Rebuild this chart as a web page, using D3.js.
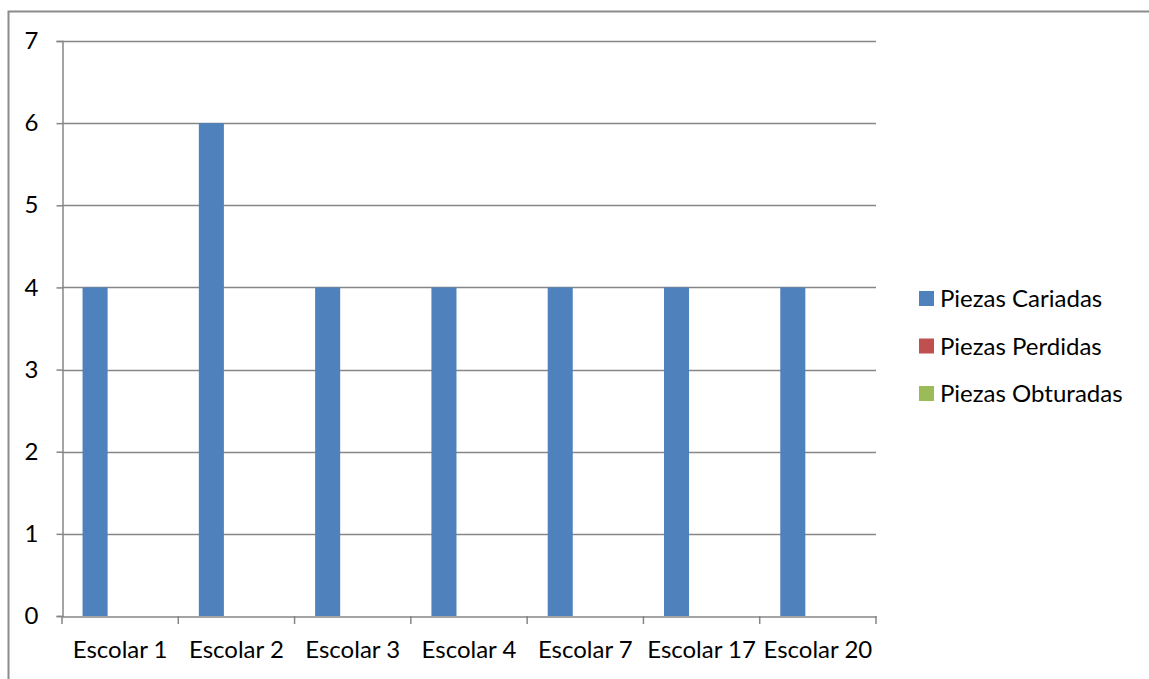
<!DOCTYPE html>
<html>
<head>
<meta charset="utf-8">
<script src="https://cdn.jsdelivr.net/npm/d3@7"></script>
<style>
  html, body { margin: 0; padding: 0; background: #fff; }
  svg { display: block; }
  text { font-family: Lato, "Open Sans", sans-serif; fill: #000; }
</style>
</head>
<body>
<svg id="chart" width="1149" height="679"></svg>
<script>
// Índice CPO por escolar
const categories = ["Escolar 1", "Escolar 2", "Escolar 3", "Escolar 4", "Escolar 7", "Escolar 17", "Escolar 20"];
const seriesNames = ["Piezas Cariadas", "Piezas Perdidas", "Piezas Obturadas"];
const seriesColors = ["#4f81bd", "#c0504d", "#9bbb59"];
const cariadas = [4, 6, 4, 4, 4, 4, 4];
const perdidas = [0, 0, 0, 0, 0, 0, 0];
const obturadas = [0, 0, 0, 0, 0, 0, 0];
const yTicks = [0, 1, 2, 3, 4, 5, 6, 7];

const seriesValues = [cariadas, perdidas, obturadas];

const svg = d3.select("#chart");
const W = 1149, H = 679;
const plot = { left: 62, right: 876, top: 41, bottom: 616 };
const gridColor = "#868686";
const fontSize = 24;

// outer chart frame (extends past the visible window on the right and bottom)
svg.append("path")
  .attr("d", `M8.5,${H + 5} V11.5 H${W + 5}`)
  .attr("fill", "none")
  .attr("stroke", "#8c8c8c")
  .attr("stroke-width", 2);

const x0 = d3.scaleBand().domain(categories).range([plot.left, plot.right]).paddingInner(0).paddingOuter(0);
const x1 = d3.scaleBand().domain(seriesNames).range([0, x0.bandwidth()]).paddingInner(0).paddingOuter(0.82);
const y = d3.scaleLinear().domain([0, 7]).range([plot.bottom, plot.top]);

// horizontal gridlines
svg.append("g")
  .selectAll("line")
  .data(yTicks.filter(d => d > 0))
  .join("line")
  .attr("x1", plot.left).attr("x2", plot.right)
  .attr("y1", d => Math.round(y(d)) + 0.5).attr("y2", d => Math.round(y(d)) + 0.5)
  .attr("stroke", gridColor).attr("stroke-width", 1.5);

// bars
const groups = svg.append("g")
  .selectAll("g")
  .data(seriesNames.map((name, i) => ({ name, color: seriesColors[i], values: seriesValues[i] })))
  .join("g")
  .attr("fill", d => d.color);

groups.selectAll("rect")
  .data(d => d.values.map((v, j) => ({ name: d.name, cat: categories[j], v })))
  .join("rect")
  .attr("x", d => x0(d.cat) + x1(d.name))
  .attr("width", x1.bandwidth())
  .attr("y", d => y(d.v))
  .attr("height", d => y(0) - y(d.v));

// y axis
const yAxis = svg.append("g")
  .attr("transform", `translate(${plot.left + 0.5},0)`)
  .call(d3.axisLeft(y).tickValues(yTicks).tickSize(6).tickPadding(18).tickFormat(d3.format("d")));
yAxis.select(".domain").attr("stroke", gridColor).attr("stroke-width", 1.5);
yAxis.selectAll(".tick line").attr("stroke", gridColor).attr("stroke-width", 1.5);
yAxis.selectAll(".tick text").attr("font-size", fontSize);

// x axis
const xAxis = svg.append("g")
  .attr("transform", `translate(0,${plot.bottom + 0.5})`)
  .call(d3.axisBottom(x0).tickSize(0).tickPadding(24));
xAxis.select(".domain").attr("stroke", gridColor).attr("stroke-width", 1.5);
xAxis.selectAll(".tick text").attr("font-size", fontSize);
// category boundary tick marks
svg.append("g")
  .selectAll("line")
  .data(categories.concat(["__end"]))
  .join("line")
  .attr("x1", (d, i) => i < categories.length ? x0(d) : plot.right)
  .attr("x2", (d, i) => i < categories.length ? x0(d) : plot.right)
  .attr("y1", plot.bottom)
  .attr("y2", plot.bottom + 8)
  .attr("stroke", gridColor).attr("stroke-width", 1.5);

// legend
const legend = svg.append("g").attr("transform", "translate(919,291)");
const items = legend.selectAll("g")
  .data(seriesNames)
  .join("g")
  .attr("transform", (d, i) => `translate(0,${i * 47.5})`);
items.append("rect")
  .attr("width", 15).attr("height", 15)
  .attr("fill", (d, i) => seriesColors[i]);
items.append("text")
  .attr("x", 21).attr("y", 8)
  .attr("dy", "0.35em")
  .attr("font-size", fontSize)
  .text(d => d);
</script>
</body>
</html>
